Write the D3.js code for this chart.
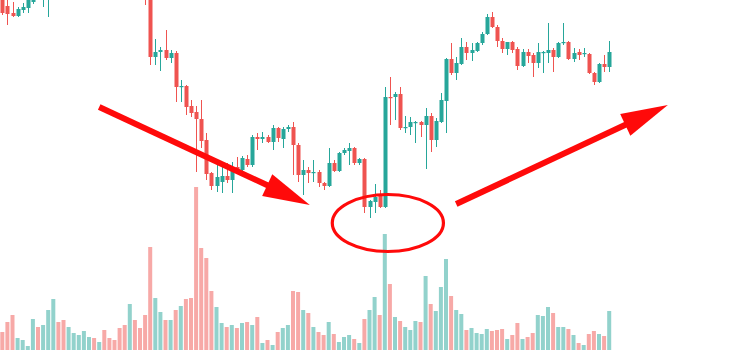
<!DOCTYPE html>
<html>
<head>
<meta charset="utf-8">
<script src="https://cdn.jsdelivr.net/npm/d3@7/dist/d3.min.js"></script>
<style>
html,body{margin:0;padding:0;background:#fff;overflow:hidden;}
svg{display:block;}
</style>
</head>
<body>
<svg id="chart" width="750" height="350"></svg>
<script>
// ---- data (price units, index 0..119) ----
const openP = [255,244,237,234,240,242,248,256,255,258,
265,285,278,272,278,282,286,290,293,290,
294,288,285,282,278,274,282,276,270,262,
193,198,200,192,197,163,164,144,138,131,
110,77,64,68,74,70,83,80,91,85,
113,111,113,108,122,111,121,123,105,75,
80,77,78,67,64,87,79,97,99,102,
87,91,43,48,55,43,153,153,156,122,
123,127,128,125,134,110,128,149,191,177,
186,203,197,199,207,216,233,223,209,201,
208,201,184,198,195,187,197,197,200,193,
207,208,191,198,196,196,177,168,186,183];
const closeP = [237,236,234,241,243,252,255,252,262,268,
285,278,272,278,282,286,290,293,290,294,
288,285,282,278,274,282,276,270,252,193,
198,200,192,197,163,164,143,137,131,109,
76,64,73,74,70,83,80,92,85,113,
111,113,108,122,112,121,123,105,75,80,
77,78,67,64,87,79,97,100,102,87,
91,43,49,53,43,153,152,156,122,123,
128,128,125,134,110,129,150,191,177,187,
203,197,200,207,216,233,223,209,201,208,
200,184,198,194,187,198,198,200,193,207,
208,191,197,195,197,177,168,186,183,198];
const highP = [260,252,248,243,247,256,258,259,266,272,
290,288,281,281,285,289,293,296,295,297,
296,290,287,284,280,285,284,278,272,265,
211,203,220,200,199,170,165,150,144,150,
117,78,85,83,87,88,93,94,95,115,
117,118,115,125,123,123,125,128,107,90,
83,90,80,68,102,90,98,102,107,103,
92,92,50,66,60,163,173,158,163,134,
133,129,129,142,137,132,157,192,207,193,
212,208,207,208,218,236,238,225,212,208,
209,203,201,201,197,207,199,227,202,208,
227,209,202,201,202,197,178,187,195,209];
const lowP = [235,225,233,233,237,237,246,251,243,233,
262,275,268,270,276,280,284,288,287,289,
285,282,279,275,271,272,272,266,245,185,
185,179,190,187,148,148,135,133,78,102,
70,60,58,57,67,57,78,77,83,83,
100,107,107,100,108,102,118,75,68,55,
67,68,63,60,63,78,78,95,85,85,
85,37,32,37,42,42,125,130,120,117,
115,107,113,81,98,103,127,117,175,170,
185,190,189,198,205,215,222,203,197,195,
197,180,183,187,173,182,177,187,178,192,
205,190,188,190,193,176,165,167,178,178];
const volume = [18,28,35,12,10,4,31,23,25,40,
51,28,30,23,17,15,19,13,12,8,
20,12,10,22,25,46,30,22,35,103,
52,38,30,30,40,44,51,52,163,102,
92,59,43,27,23,25,22,27,28,25,
33,7,10,5,18,22,25,59,58,40,
37,23,18,15,28,16,8,13,15,11,
7,31,40,53,35,116,66,33,29,23,
20,29,28,74,46,39,63,91,54,40,
36,20,22,17,16,21,19,20,21,11,
15,27,11,13,17,35,34,43,37,23,
23,21,15,7,5,16,19,16,14,39];

// annotations in data coordinates [index, price]
const arrows = [
  {from:[19,143], to:[60.3,45]},
  {from:[89,46], to:[130.5,145]}
];
const ellipseAnn = {center:[75.6,27], rx:10.9, ry:28.5};

const UP = "#26a69a", DOWN = "#ef5350";
const UP_V = "rgba(38,166,154,0.5)", DOWN_V = "rgba(239,83,80,0.5)";
const RED = "#ff0a0a";

const data = openP.map((o,i)=>({i, o, c:closeP[i], h:highP[i], l:lowP[i], v:volume[i]}));

const svg = d3.select("#chart");
const x = d3.scaleLinear().domain([0,119]).range([2.3,609.2]);
const y = d3.scaleLinear().domain([30,250]).range([220,0]);
const yv = d3.scaleLinear().domain([0,170]).range([350,180]);
const bw = 4;

// volume
svg.append("g").selectAll("rect").data(data).join("rect")
  .attr("x", d=>x(d.i)-bw/2)
  .attr("width", bw)
  .attr("y", d=>yv(d.v))
  .attr("height", d=>yv(0)-yv(d.v))
  .attr("fill", d=>d.c>=d.o?UP_V:DOWN_V);

// candles
const cg = svg.append("g");
cg.selectAll("line").data(data).join("line")
  .attr("x1", d=>Math.round(x(d.i))+0.5).attr("x2", d=>Math.round(x(d.i))+0.5)
  .attr("y1", d=>y(d.h)).attr("y2", d=>y(d.l))
  .attr("stroke", d=>d.c>=d.o?UP:DOWN).attr("stroke-width",1);
cg.selectAll("rect").data(data).join("rect")
  .attr("x", d=>Math.round(x(d.i))+0.5-bw/2)
  .attr("width", bw)
  .attr("y", d=>y(Math.max(d.o,d.c)))
  .attr("height", d=>Math.max(1.2, Math.abs(y(d.o)-y(d.c))))
  .attr("fill", d=>d.c>=d.o?UP:DOWN);

// annotations
const ag = svg.append("g");
arrows.forEach(a=>{
  const x1=x(a.from[0]), y1=y(a.from[1]), x2=x(a.to[0]), y2=y(a.to[1]);
  const dx=x2-x1, dy=y2-y1, len=Math.hypot(dx,dy), ux=dx/len, uy=dy/len;
  const L=47, W=24;
  const mx=x2-ux*L, my=y2-uy*L;
  ag.append("line").attr("x1",x1).attr("y1",y1).attr("x2",mx+ux*2).attr("y2",my+uy*2)
    .attr("stroke",RED).attr("stroke-width",6);
  ag.append("path")
    .attr("d", d3.line()([[x2,y2],[mx-uy*W/2,my+ux*W/2],[mx+uy*W/2,my-ux*W/2]])+"Z")
    .attr("fill",RED);
});
ag.append("ellipse")
  .attr("cx", x(ellipseAnn.center[0])).attr("cy", y(ellipseAnn.center[1]))
  .attr("rx", x(ellipseAnn.rx)-x(0)).attr("ry", y(0)-y(ellipseAnn.ry))
  .attr("fill","none").attr("stroke",RED).attr("stroke-width",3.2);
</script>
</body>
</html>
